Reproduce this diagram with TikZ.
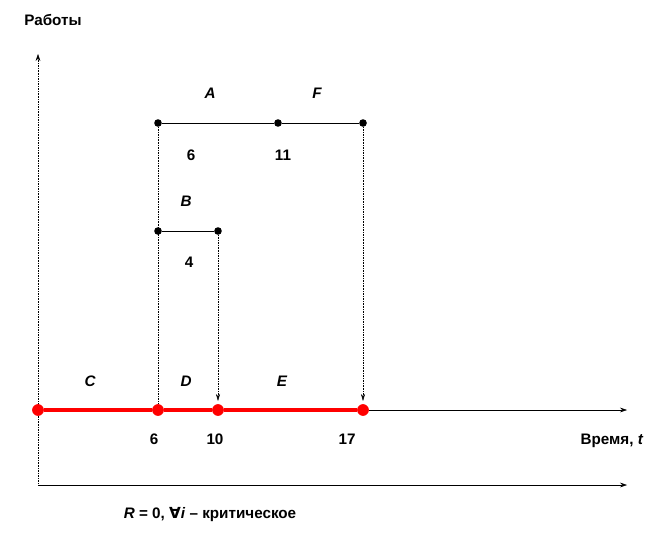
\documentclass[tikz,border=0pt]{standalone}
\usepackage{fontspec}
\setmainfont{Liberation Sans}
\newfontfamily\symfont{DejaVu Sans}
\usetikzlibrary{arrows.meta}

\begin{document}
\begin{tikzpicture}[
  x=0.03cm, y=-0.03cm,
  font=\fontsize{13}{15}\selectfont\bfseries,
  dot/.style={circle, fill, inner sep=0pt, minimum size=6.5pt},
  reddot/.style={circle, fill=red, inner sep=0pt, minimum size=10pt},
  lbl/.style={font=\fontsize{13}{15}\selectfont\bfseries\itshape},
  axis/.style={-{Stealth[length=6pt,width=4pt]}, thin},
  guide/.style={densely dotted, thin},
  tip/.style={-{Stealth[length=6pt,width=3.5pt]}},
  crit/.style={red, line width=3pt}
]
\useasboundingbox (0,0) rectangle (666,534);

% axes
\coordinate (o) at (38,485);
\coordinate (yend) at (38,54);
\coordinate (xend) at (627,410);
\coordinate (bend) at (627,485);
\draw[axis, guide] (o) -- (yend);
\draw[axis] (o) -- (bend);

% critical path
\node[reddot] (r0) at (38,410) {};
\node[reddot] (r6) at (158,410) {};
\node[reddot] (r10) at (218,410) {};
\node[reddot] (r17) at (363,410) {};
\draw[crit] (r0) -- (r6) -- (r10) -- (r17);
\draw[axis] (r17) -- (xend);

% works A, F
\node[dot] (a0) at (158,123) {};
\node[dot] (a6) at (278,123) {};
\node[dot] (a11) at (363,123) {};
\draw (a0) -- (a6) -- (a11);

% work B
\node[dot] (b0) at (158,231) {};
\node[dot] (b4) at (218,231) {};
\draw (b0) -- (b4);

% projections
\coordinate (t10) at (218,401);
\coordinate (t17) at (363,401);
\draw[guide] (a0) -- (r6);
\draw[guide, tip] (b4) -- (t10);
\draw[guide, tip] (a11) -- (t17);

% labels
\node[lbl] (lA) at (210,93) {A};
\node[lbl] (lF) at (317,93) {F};
\node (n6) at (191,155) {6};
\node (n11) at (283,155) {11};
\node[lbl] (lB) at (186,201) {B};
\node (n4) at (189,262) {4};
\node[lbl] (lC) at (90,381) {C};
\node[lbl] (lD) at (186,381) {D};
\node[lbl] (lE) at (282,381) {E};
\node (x6) at (154,439) {6};
\node (x10) at (215,439) {10};
\node (x17) at (347,439) {17};
\node (work) at (53,20) {Работы};
\node (time) at (612,441) {Время, \textit{t}};
\node (note) at (210,515) {\textit{R} = 0, {\symfont\bfseries ∀}\textit{i} – критическое};
\end{tikzpicture}
\end{document}
